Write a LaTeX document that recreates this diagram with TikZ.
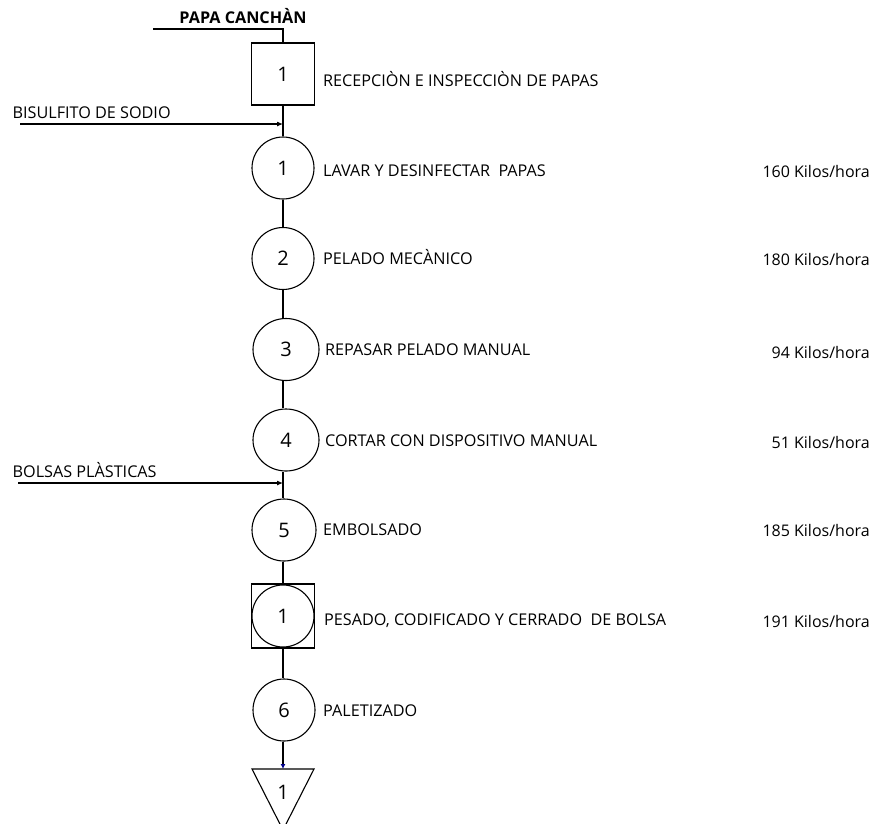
\documentclass[tikz,border=0pt]{standalone}
\usepackage{fontspec}
\setmainfont{Open Sans}
\usetikzlibrary{arrows.meta,shapes.geometric}
\begin{document}
\begin{tikzpicture}[x=1pt,y=-1pt,
  op/.style={draw,line width=1.1pt,ellipse,minimum width=62pt,minimum height=62pt,inner sep=0pt,font=\fontsize{20}{20}\selectfont},
  insp/.style={draw,line width=1.1pt,rectangle,minimum width=63pt,minimum height=62pt,inner sep=0pt,font=\fontsize{20}{20}\selectfont},
  lbl/.style={anchor=base west,inner sep=0pt,font=\fontsize{16.2}{18}\selectfont},
  rate/.style={anchor=base east,inner sep=0pt,font=\fontsize{16}{18}\selectfont},
  flow/.style={line width=1.1pt},
  feed/.style={line width=1.1pt,-{Latex[length=6pt,width=5pt]}}]
\useasboundingbox (0,0) rectangle (873,823);

% product entering the line
\node[anchor=base,inner sep=0pt,font=\fontsize{16.2}{18}\selectfont\bfseries] (papa) at (243,23) {PAPA CANCHÀN};
\coordinate (papaStart) at (153,29);
\coordinate (papaCorner) at (283,29);

% inspection
\node[insp] (r1) at (283,74) {1};
\node[lbl] (tr1) at (323,86) {RECEPCIÒN E INSPECCIÒN DE PAPAS};

% operations
\node[op] (o1) at (283,168) {1};
\node[op] (o2) at (283,258.5) {2};
\node[op,minimum width=66pt] (o3) at (286,349.5) {3};
\node[op,minimum width=66pt] (o4) at (286,440) {4};
\node[op,minimum width=64pt] (o5) at (284,530) {5};
\node[insp,minimum height=64pt] (c1box) at (283,616) {};
\node[op] (c1) at (283,616) {1};
\node[op] (o6) at (284,710) {6};

% storage
\coordinate (stL) at (252,769);
\coordinate (stR) at (314,769);
\coordinate (stB) at (283,830);
\node[inner sep=0pt,font=\fontsize{20}{20}\selectfont] (stn) at (283,792) {1};

% step labels
\node[lbl] (t1) at (323,176) {LAVAR Y DESINFECTAR\ \ PAPAS};
\node[lbl] (t2) at (323,264) {PELADO MECÀNICO};
\node[lbl] (t3) at (325,355) {REPASAR PELADO MANUAL};
\node[lbl] (t4) at (325,446.5) {CORTAR CON DISPOSITIVO MANUAL};
\node[lbl] (t5) at (323,535) {EMBOLSADO};
\node[lbl] (tc) at (324,625) {PESADO, CODIFICADO Y CERRADO\ \ DE BOLSA};
\node[lbl] (t6) at (323,716) {PALETIZADO};

% throughput
\node[rate] (k1) at (870,177) {160 Kilos/hora};
\node[rate] (k2) at (870,265.5) {180 Kilos/hora};
\node[rate] (k3) at (870,358) {94 Kilos/hora};
\node[rate] (k4) at (870,448) {51 Kilos/hora};
\node[rate] (k5) at (870,536) {185 Kilos/hora};
\node[rate] (kc) at (870,627) {191 Kilos/hora};

% additions
\node[lbl] (bis) at (12.5,118) {BISULFITO DE SODIO};
\coordinate (bisS) at (20,124);
\coordinate (bisE) at (283,124);
\node[lbl] (bol) at (12.5,477) {BOLSAS PLÀSTICAS};
\coordinate (bolS) at (18,483);
\coordinate (bolE) at (283,483);

% main flow
\draw[flow] (papaStart) -- (papaCorner) -- (r1.north);
\draw[flow] (r1.south) -- (o1.north);
\draw[flow] (o1.south) -- (o2.north);
\draw[flow] (o2.south) -- (o3.north -| o2.south);
\draw[flow] (o3.south -| o2.south) -- (o4.north -| o2.south);
\draw[flow] (o4.south -| o2.south) -- (o5.north -| o2.south);
\draw[flow] (o5.south -| o2.south) -- (c1box.north);
\draw[flow] (c1box.south) -- (o6.north -| c1box.south);
\draw[flow,-{Latex[length=5pt,width=5pt,color=blue!55!black]}] (o6.south -| c1box.south) -- (stL -| c1box.south);
\draw[line width=1.1pt] (stL) -- (stR) -- (stB) -- cycle;

\draw[feed] (bisS) -- (bisE);
\draw[feed] (bolS) -- (bolE);
\end{tikzpicture}
\end{document}
